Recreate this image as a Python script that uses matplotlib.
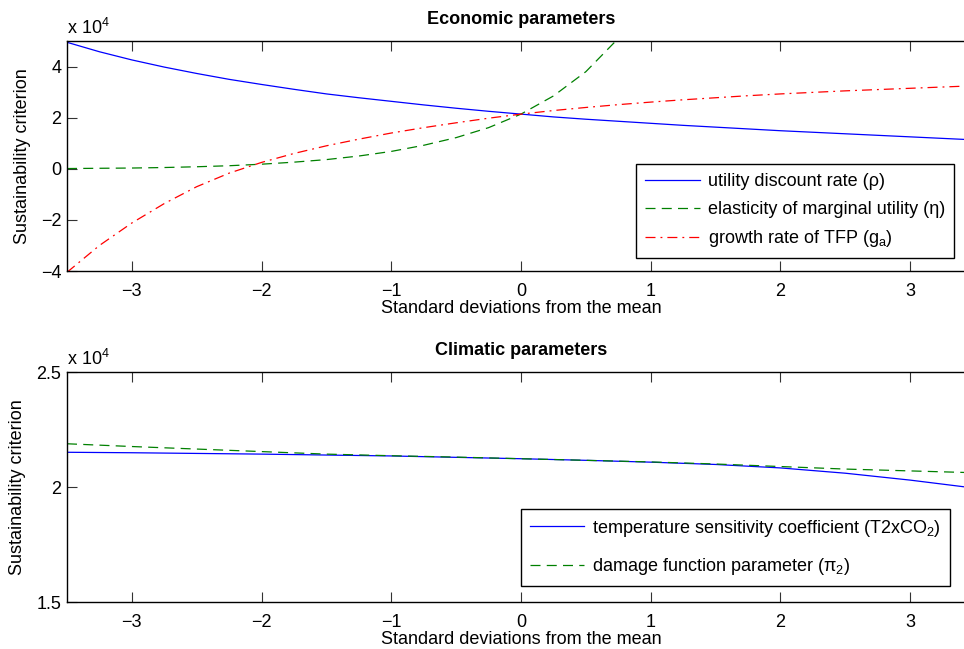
import numpy as np
import matplotlib
matplotlib.use("Agg")
import matplotlib.pyplot as plt
from matplotlib.ticker import FuncFormatter

plt.rcParams['font.family'] = ['Liberation Sans', 'DejaVu Sans']
plt.rcParams['mathtext.fontset'] = 'custom'
plt.rcParams['mathtext.rm'] = 'Liberation Sans'

# --- Data (sustainability criterion) ---
# economic panel, 0.25 std steps
X_ECON = [-3.5, -3.25, -3.0, -2.75, -2.5, -2.25, -2.0, -1.75, -1.5, -1.25,
          -1.0, -0.75, -0.5, -0.25, 0.0, 0.25, 0.5, 0.75, 1.0, 1.25,
          1.5, 1.75, 2.0, 2.25, 2.5, 2.75, 3.0, 3.25, 3.5]
RHO = [4.95e4, 4.58e4, 4.26e4, 3.98e4, 3.73e4, 3.50e4, 3.30e4, 3.11e4, 2.93e4, 2.78e4,
       2.64e4, 2.50e4, 2.37e4, 2.25e4, 2.14e4, 2.03e4, 1.94e4, 1.86e4, 1.78e4, 1.70e4,
       1.63e4, 1.56e4, 1.49e4, 1.43e4, 1.37e4, 1.31e4, 1.25e4, 1.19e4, 1.13e4]
GA = [-4.05e4, -3.00e4, -2.12e4, -1.36e4, -0.70e4, -0.17e4, 0.25e4, 0.60e4, 0.90e4, 1.16e4,
      1.40e4, 1.61e4, 1.80e4, 1.98e4, 2.14e4, 2.28e4, 2.40e4, 2.51e4, 2.61e4, 2.70e4,
      2.78e4, 2.86e4, 2.93e4, 2.99e4, 3.05e4, 3.10e4, 3.15e4, 3.20e4, 3.25e4]

X_ETA = [-3.5, -3.25, -3.0, -2.75, -2.5, -2.25, -2.0, -1.75, -1.5, -1.25,
         -1.0, -0.75, -0.5, -0.25, 0.0, 0.25, 0.5, 0.75, 1.0]
ETA = [0.01e4, 0.02e4, 0.03e4, 0.05e4, 0.08e4, 0.12e4, 0.18e4, 0.26e4, 0.36e4, 0.50e4,
       0.68e4, 0.92e4, 1.22e4, 1.61e4, 2.14e4, 2.85e4, 3.80e4, 5.10e4, 6.80e4]

# climatic panel, 0.5 std steps
X_CLIM = [-3.5, -3.0, -2.5, -2.0, -1.5, -1.0, -0.5, 0.0, 0.5, 1.0, 1.5, 2.0, 2.5, 3.0, 3.5]
T2XCO2 = [2.151e4, 2.149e4, 2.146e4, 2.143e4, 2.139e4, 2.135e4, 2.129e4, 2.123e4,
          2.116e4, 2.108e4, 2.098e4, 2.083e4, 2.060e4, 2.030e4, 1.995e4]
PI2 = [2.188e4, 2.176e4, 2.165e4, 2.154e4, 2.143e4, 2.136e4, 2.130e4, 2.123e4,
       2.116e4, 2.109e4, 2.100e4, 2.089e4, 2.078e4, 2.070e4, 2.062e4]

X_TICKS = [-3, -2, -1, 0, 1, 2, 3]
FS = 13


def fmt(v, pos):
    return ('%g' % (v / 1e4)).replace('-', '\u2212')


def style_axes(ax, ylim, yticks):
    ax.set_xlim(-3.5, 3.5)
    ax.set_ylim(*ylim)
    ax.set_xticks(X_TICKS)
    ax.set_xticklabels([('%d' % t).replace('-', '\u2212') for t in X_TICKS])
    ax.set_yticks(yticks)
    ax.yaxis.set_major_formatter(FuncFormatter(fmt))
    ax.tick_params(direction='in', length=7, width=0.8, top=True, right=True,
                   labelsize=FS, pad=4, color='#333333')
    ax.tick_params(axis='x', pad=8.5)
    for sp in ax.spines.values():
        sp.set_linewidth(1.0)
    ax.set_xlabel('Standard deviations from the mean', fontsize=FS, labelpad=0)
    ax.set_ylabel('Sustainability criterion', fontsize=FS, labelpad=7.5)
    ax.text(0.0, 1.012, 'x 10$^{4}$', transform=ax.transAxes, fontsize=FS,
            ha='left', va='bottom')


fig = plt.figure(figsize=(9.64, 6.49), dpi=100, facecolor='white')

# --- Economic parameters ---
ax1 = fig.add_axes([0.0695, 0.5824, 0.9419, 0.3544])
ax1.plot(X_ECON, RHO, color='#0000ff', lw=0.9, label='utility discount rate (ρ)')
ax1.plot(X_ETA, ETA, color='#008000', lw=0.9, dashes=(8, 5),
         label='elasticity of marginal utility (η)')
ax1.plot(X_ECON, GA, color='#ff0000', lw=0.9, dashes=(8, 4, 1.5, 4),
         label='growth rate of TFP (g$_\\mathregular{a}$)')
style_axes(ax1, (-4e4, 5e4), [-4e4, -2e4, 0, 2e4, 4e4])
ax1.set_title('Economic parameters', fontsize=FS, fontweight='bold', pad=12)
leg1 = ax1.legend(loc='lower left', bbox_to_anchor=(0.627, 0.055), fontsize=FS,
                  frameon=True, fancybox=False, edgecolor='black', framealpha=1,
                  handlelength=3.0, handletextpad=0.45, borderpad=0.5,
                  labelspacing=0.58, borderaxespad=0)
leg1.get_frame().set_linewidth(1.0)

# --- Climatic parameters ---
ax2 = fig.add_axes([0.0695, 0.0724, 0.9419, 0.3544])
ax2.plot(X_CLIM, T2XCO2, color='#0000ff', lw=0.9,
         label='temperature sensitivity coefficient (T2xCO$_\\mathregular{2}$)')
ax2.plot(X_CLIM, PI2, color='#008000', lw=0.9, dashes=(8, 5),
         label='damage function parameter (π$_\\mathregular{2}$)')
style_axes(ax2, (1.5e4, 2.5e4), [1.5e4, 2e4, 2.5e4])
ax2.set_title('Climatic parameters', fontsize=FS, fontweight='bold', pad=12)
leg2 = ax2.legend(loc='lower left', bbox_to_anchor=(0.5, 0.07), fontsize=FS,
                  frameon=True, fancybox=False, edgecolor='black', framealpha=1,
                  handlelength=3.0, handletextpad=0.45, borderpad=0.5,
                  labelspacing=0.95, borderaxespad=0)
leg2.get_frame().set_linewidth(1.0)

fig.savefig('out.png', dpi=100, facecolor='white')
